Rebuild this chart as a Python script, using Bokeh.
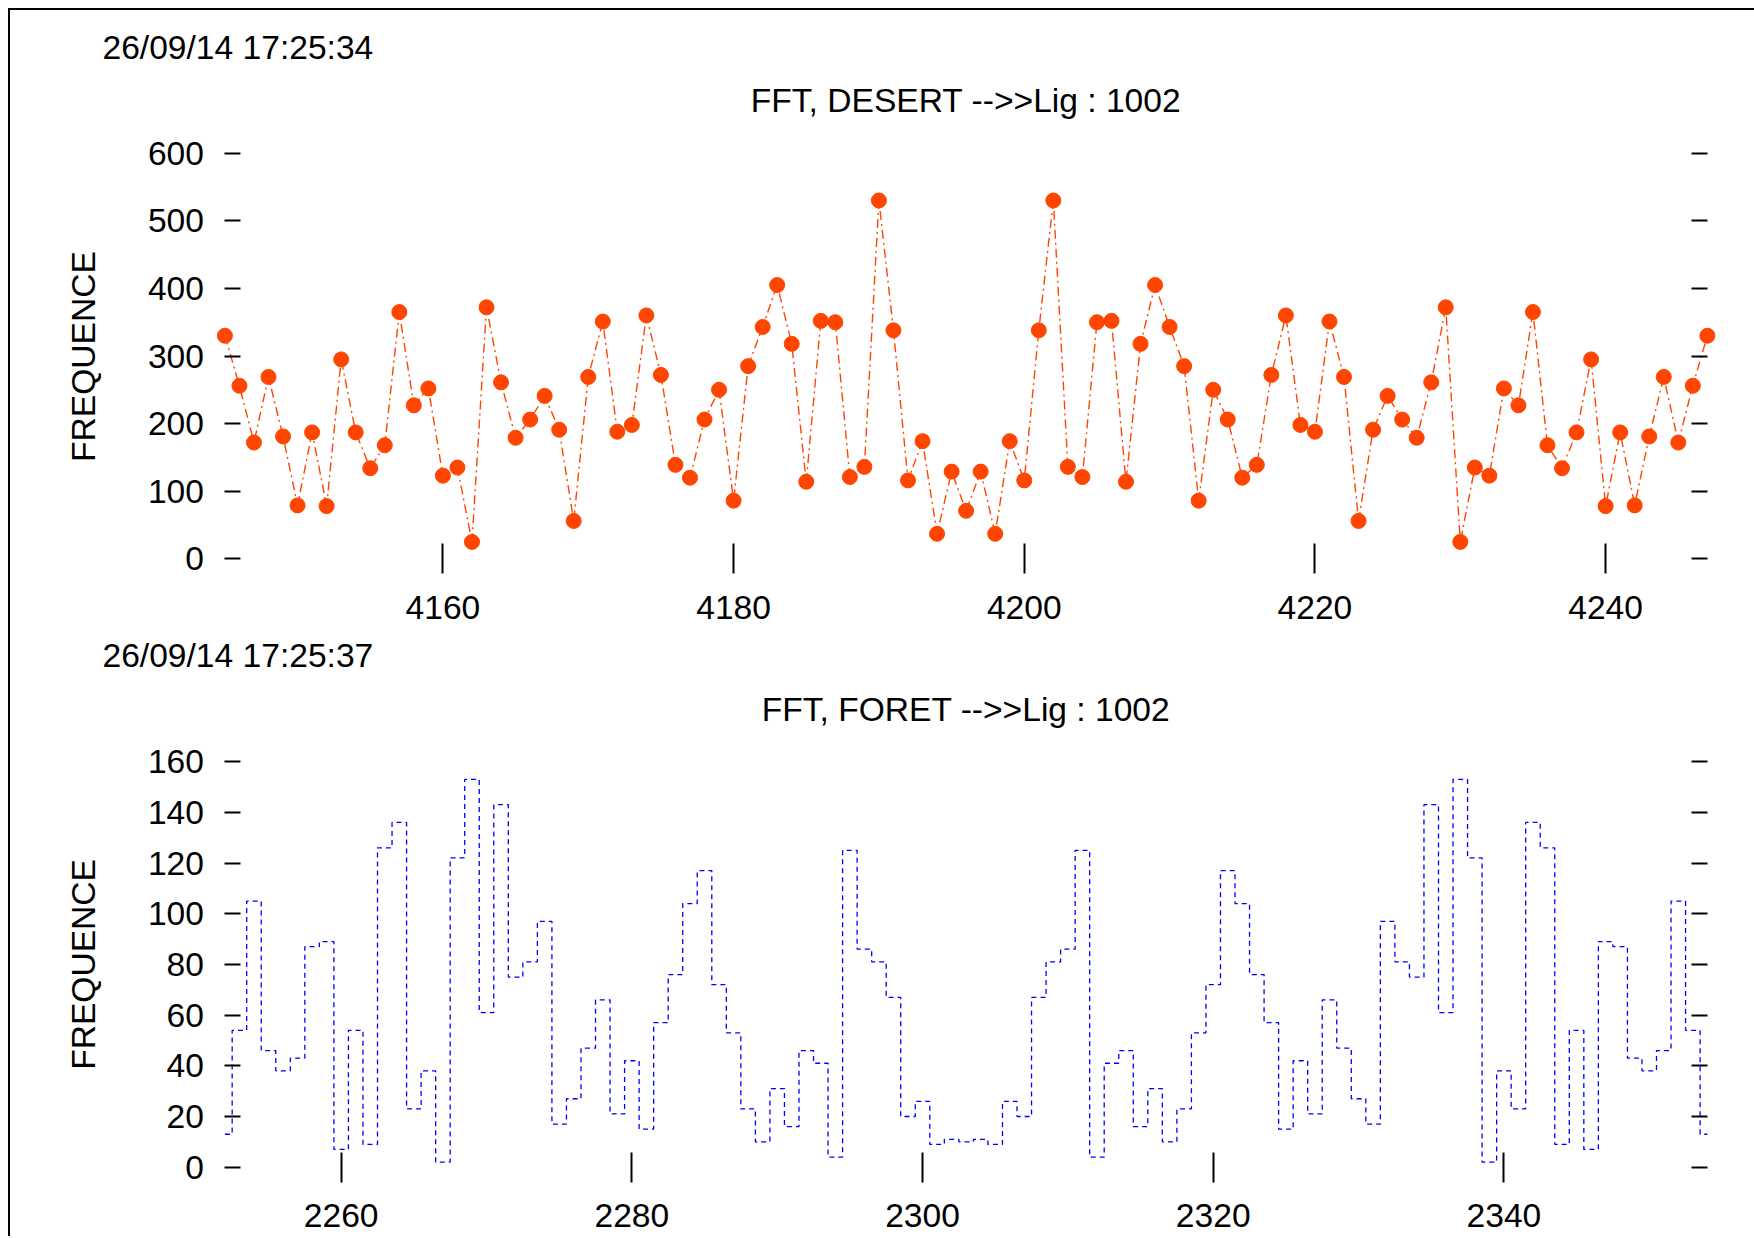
import math
from bokeh.plotting import figure
from bokeh.models import Range1d, FixedTicker, LinearAxis, Label, CustomJSTickFormatter
from bokeh.layouts import column
from bokeh.embed import file_html
from bokeh.resources import INLINE

# ---------------- data ----------------
desert_x = list(range(4145, 4248))
desert_y = [330, 256, 172, 269, 181, 79, 187, 78, 295, 187, 134, 168, 365, 227, 252, 123,
            135, 25, 372, 261, 179, 206, 241, 191, 56, 269, 351, 188, 198, 360, 272, 139,
            120, 206, 250, 86, 285, 343, 405, 318, 114, 352, 350, 121, 136, 530, 338, 116,
            174, 37, 129, 71,
            129, 37, 174, 116, 338, 530, 136, 121, 350, 352, 114, 318, 405, 343, 285, 86,
            250, 206, 120, 139, 272, 360, 198, 188, 351, 269, 56, 191, 241, 206, 179, 261,
            372, 25, 135, 123, 252, 227, 365, 168, 134, 187, 295, 78, 187, 79, 181, 269,
            172, 256, 330]

foret_x = list(range(2252, 2355))
foret_y = [13, 54, 105, 46, 38, 43, 87, 89, 7, 54, 9, 126, 136, 23, 38, 2, 122, 153, 61,
           143, 75, 81, 97, 17, 27, 47, 66, 21, 42, 15, 57, 76, 104, 117, 72, 53, 23, 10,
           31, 16, 46, 41, 4, 125, 86, 81, 67, 20, 26, 9, 11, 10,
           11, 9, 26, 20, 67, 81, 86, 125, 4, 41, 46, 16, 31, 10, 23, 53, 72, 117, 104, 76,
           57, 15, 42, 21, 66, 47, 27, 17, 97, 81, 75, 143, 61, 153, 122, 2, 38, 23, 136,
           126, 9, 54, 7, 89, 87, 43, 38, 46, 105, 54, 13]

desert_xticks = [4160, 4180, 4200, 4220, 4240]
desert_yticks = [0, 100, 200, 300, 400, 500, 600]
foret_xticks = [2260, 2280, 2300, 2320, 2340]
foret_yticks = [0, 20, 40, 60, 80, 100, 120, 140, 160]

date1 = "26/09/14 17:25:34"
date2 = "26/09/14 17:25:37"
title1 = "FFT, DESERT -->>Lig : 1002"
title2 = "FFT, FORET -->>Lig : 1002"
ylabel = "FREQUENCE"

# ---------------- layout constants (pixels) ----------------
FONT = "Liberation Sans"
FS = "33.6px"
W = 1744               # canvas width
X_FIRST = 214.4        # canvas x of the first sample
PX_PER_X = 14.534      # pixels per x unit
TICK_SPAN = 405.6      # pixels between lowest and highest y tick


def style_axis(ax):
    ax.axis_line_color = None
    ax.major_tick_line_color = "black"
    ax.major_tick_line_width = 2
    ax.minor_tick_line_color = None
    ax.major_label_text_font = FONT
    ax.major_label_text_font_size = FS
    ax.major_label_text_color = "black"


def make_fig(height, zero_from_bottom, xs, xticks, yticks, texts):
    ymax = yticks[-1]
    ky = TICK_SPAN / ymax
    ystart = -zero_from_bottom / ky
    xstart = xs[0] - X_FIRST / PX_PER_X
    p = figure(width=W, height=height,
               x_range=Range1d(xstart, xstart + W / PX_PER_X),
               y_range=Range1d(ystart, ystart + height / ky),
               min_border_left=0, min_border_right=0,
               min_border_top=0, min_border_bottom=0,
               output_backend="svg", toolbar_location=None,
               background_fill_color="white", border_fill_color="white")
    p.outline_line_color = None
    p.xgrid.visible = False
    p.ygrid.visible = False

    xa = p.xaxis[0]
    style_axis(xa)
    xa.ticker = FixedTicker(ticks=xticks)
    xa.fixed_location = 0
    xa.major_tick_in = 15
    xa.major_tick_out = 15
    xa.major_label_standoff = 22

    ya = p.yaxis[0]
    style_axis(ya)
    ya.ticker = FixedTicker(ticks=yticks)
    ya.fixed_location = xs[0]
    ya.major_tick_in = 16
    ya.major_tick_out = 0
    ya.major_label_standoff = 21

    ra = LinearAxis(ticker=FixedTicker(ticks=yticks),
                    formatter=CustomJSTickFormatter(code="return ''"))
    style_axis(ra)
    ra.fixed_location = xs[-1]
    ra.major_tick_in = 16
    ra.major_tick_out = 0
    p.add_layout(ra, "right")

    for (txt, x, y, align, angle) in texts:
        p.add_layout(Label(x=x, y=y, x_units="screen", y_units="screen",
                           text=txt, text_font=FONT, text_font_size=FS, angle=angle,
                           text_align=align, text_baseline="middle", text_color="black"))
    return p


# ---------- top chart ----------
H1 = 617
p1 = make_fig(H1, 68.7, desert_x, desert_xticks, desert_yticks,
              [(date1, 92, H1 - 38.3 + 1, "left", 0),
               (title1, 955.5, H1 - 87.5 - 2.5, "center", 0),
               (ylabel, 73, H1 - 346, "center", math.pi / 2)])
p1.line(desert_x, desert_y, line_color="#ff4500", line_width=1.4, line_dash="9 4 2 4")
p1.scatter(desert_x, desert_y, size=15, fill_color="#ff4500", line_color="#ff4500")

# ---------- bottom chart ----------
H2 = 609
p2 = make_fig(H2, 69.3, foret_x, foret_xticks, foret_yticks,
              [(date2, 92, H2 - 28.7 + 1, "left", 0),
               (title2, 955.5, H2 - 79 - 3, "center", 0),
               (ylabel, 73, H2 - 336.9, "center", math.pi / 2)])
p2.step(foret_x, foret_y, mode="center", line_color="#0000ff", line_width=1.3,
        line_dash="5 4")

layout = column(p1, p2, spacing=0,
                styles={"margin-top": "8px", "margin-left": "8px",
                        "border-top": "2px solid black", "border-left": "2px solid black"})

open("out.html", "w").write(file_html(layout, INLINE))
